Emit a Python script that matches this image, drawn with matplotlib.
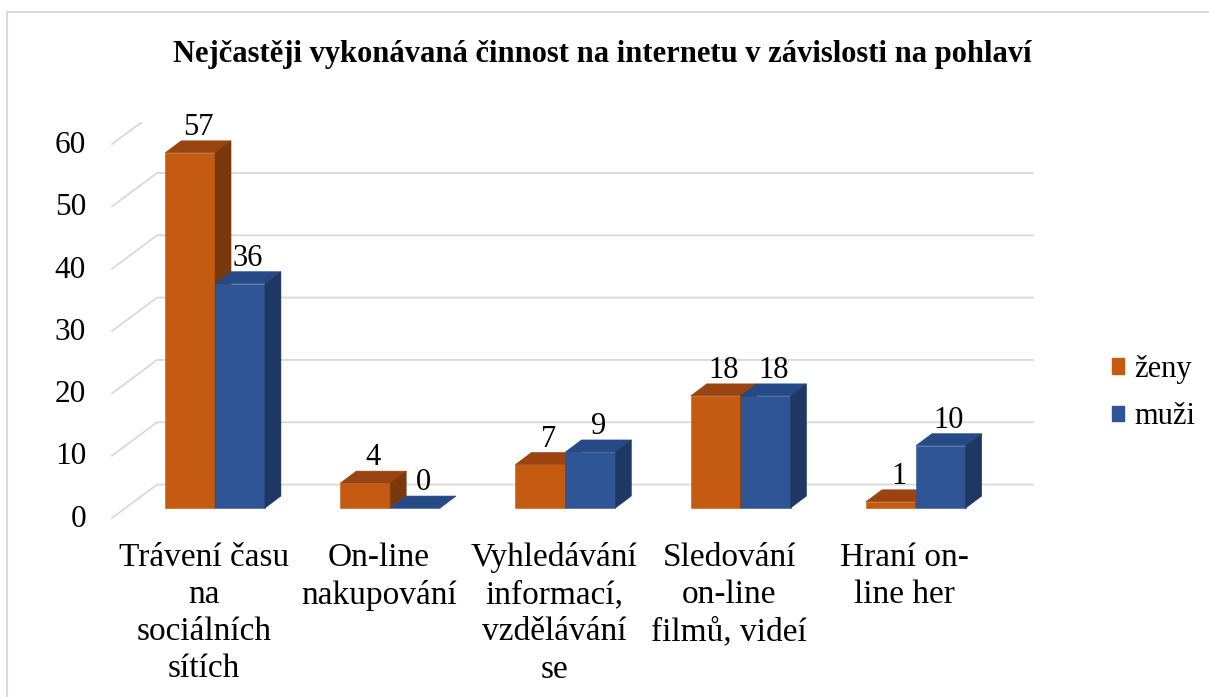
import matplotlib.pyplot as plt
from matplotlib.patches import Polygon, Patch
from matplotlib.lines import Line2D

# data
categories = ['Trávení času\nna\nsociálních\nsítích', 'On-line\nnakupování',
              'Vyhledávání\ninformací,\nvzdělávání\nse', 'Sledování\non-line\nfilmů, videí',
              'Hraní on-\nline her']
zeny = [57, 4, 7, 18, 1]
muzi = [36, 0, 9, 18, 10]
series_names = ['ženy', 'muži']
yticks = [0, 10, 20, 30, 40, 50, 60]
title = 'Nejčastěji vykonávaná činnost na internetu v závislosti na pohlaví'

plt.rcParams['font.family'] = ['Liberation Serif', 'DejaVu Serif']

front_cols = ['#C55A11', '#2F5597']
top_cols = ['#9A4511', '#264A85']
side_cols = ['#7B380C', '#1F3763']
grid_col = '#D9D9D9'

fig = plt.figure(figsize=(12.09, 6.97), dpi=100)
ax = fig.add_axes([0.0909, 0.2532, 0.797, 0.5722])
ax.set_xlim(-0.6, 4.9)
ax.set_ylim(-2, 62)
ax.axis('off')

# 3d depth offsets (data units)
w = 0.285
bdx, bdy = 0.0913, 1.93
fl_x0, fl_y0 = -0.588, -1.6     # floor front edge
wl_x0, wl_y0 = -0.331, 3.77     # back wall
wl_x1 = 4.669

# gridlines: side wall diagonal + back wall horizontal
for v in yticks:
    ax.plot([fl_x0, wl_x0, wl_x1], [v + fl_y0, v + wl_y0, v + wl_y0],
            color=grid_col, lw=1.3, zorder=1, solid_joinstyle='miter')
    ax.text(-0.736, v - 1.8, str(v), ha='right', va='center', fontsize=22.5)


def bar3d(x0, h, k):
    x1 = x0 + w
    ax.bar(x0, h, width=w, align='edge', color=front_cols[k],
           edgecolor=front_cols[k], lw=0.4, zorder=3)
    top = [(x0, h), (x1, h), (x1 + bdx, h + bdy), (x0 + bdx, h + bdy)]
    side = [(x1, 0), (x1 + bdx, bdy), (x1 + bdx, h + bdy), (x1, h)]
    ax.add_patch(Polygon(top, closed=True, fc=top_cols[k], ec=top_cols[k], lw=0.4, zorder=3))
    if h > 0:
        ax.add_patch(Polygon(side, closed=True, fc=side_cols[k], ec=side_cols[k], lw=0.4, zorder=3))
    ax.text(x0 + w / 2 + bdx / 2, h + bdy + 0.9, str(h), ha='center', va='baseline',
            fontsize=22, zorder=5)


for i in range(len(categories)):
    bar3d(i - w, zeny[i], 0)
    bar3d(i, muzi[i], 1)
    ax.text(i - 0.065, -5.5, categories[i], ha='center', va='top', fontsize=24,
            linespacing=1.28)

fig.text(0.498, 0.922, title, ha='center', va='center', fontsize=22, fontweight='bold')

handles = [Patch(facecolor=c, edgecolor=c) for c in front_cols]
fig.legend(handles, series_names, loc='center left', bbox_to_anchor=(0.897, 0.436),
           frameon=False, fontsize=22, handlelength=0.38, handleheight=0.38,
           handletextpad=0.35, labelspacing=0.6)

# chart area border (top and left visible)
fig.add_artist(Line2D([0.0058, 1.0], [0.983, 0.983], color=grid_col, lw=1.5))
fig.add_artist(Line2D([0.0058, 0.0058], [0.0, 0.983], color=grid_col, lw=1.5))

fig.savefig('out.png', dpi=100)
